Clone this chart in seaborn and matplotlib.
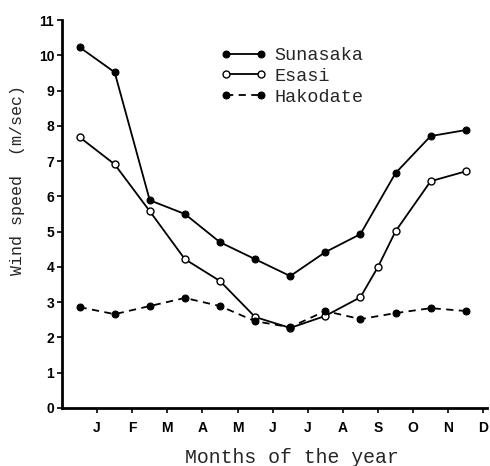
import numpy as np
import pandas as pd
import seaborn as sns
import matplotlib
matplotlib.use("Agg")
import matplotlib.pyplot as plt

# month labels under the tick marks (ticks at month ends, 1..12)
month_labels = ["J", "F", "M", "A", "M", "J", "J", "A", "S", "O", "N", "D"]
month_ticks = list(range(1, 13))

# observations plotted at mid-month
mid_month = [0.5, 1.5, 2.5, 3.5, 4.5, 5.5, 6.5, 7.5, 8.5, 9.5, 10.5, 11.5]
sunasaka = [10.23, 9.52, 5.89, 5.5, 4.70, 4.22, 3.74, 4.42, 4.93, 6.66, 7.71, 7.88]
esasi_x = [0.5, 1.5, 2.5, 3.5, 4.5, 5.5, 6.5, 7.5, 8.5, 9.0, 9.5, 10.5, 11.5]
esasi = [7.68, 6.91, 5.58, 4.22, 3.60, 2.58, 2.27, 2.61, 3.14, 4.0, 5.01, 6.43, 6.71]
hakodate = [2.86, 2.66, 2.89, 3.12, 2.89, 2.46, 2.29, 2.75, 2.52, 2.69, 2.83, 2.75]

sns.set_style("ticks")
plt.rcParams["font.family"] = ["Liberation Sans", "DejaVu Sans"]

fig = plt.figure(figsize=(4.9, 4.66), dpi=100)
ax = fig.add_axes([0.1265, 0.1245, 0.867, 0.8325])

sns.lineplot(x=mid_month, y=sunasaka, ax=ax, color="black", linewidth=1.3,
             marker="o", markersize=5, markerfacecolor="black",
             markeredgecolor="black", label="Sunasaka")
sns.lineplot(x=esasi_x, y=esasi, ax=ax, color="black", linewidth=1.3,
             marker="o", markersize=5, markerfacecolor="white",
             markeredgecolor="black", markeredgewidth=1, label="Esasi")
sns.lineplot(x=mid_month, y=hakodate, ax=ax, color="black", linewidth=1.3,
             linestyle=(0, (4, 3)), marker="o", markersize=5,
             markerfacecolor="black", markeredgecolor="black", label="Hakodate")

ax.set_xlim(0, 12.1)
ax.set_ylim(0, 11)
ax.set_xticks(month_ticks)
ax.set_xticklabels(month_labels)
ax.set_yticks(range(0, 12))
ax.set_yticklabels([str(v) for v in range(0, 12)])
for lab in ax.get_xticklabels() + ax.get_yticklabels():
    lab.set_fontweight("bold")
    lab.set_fontsize(10)
    lab.set_color("black")
ax.tick_params(axis="both", direction="out", length=3.5, width=1.2, color="black")
ax.tick_params(axis="x", pad=6)
ax.tick_params(axis="y", pad=2)

sns.despine(ax=ax)
for side in ["left", "bottom"]:
    ax.spines[side].set_linewidth(2)
    ax.spines[side].set_color("black")

ax.set_xlabel("Months of the year", family="Liberation Mono", fontsize=14.3)
ax.xaxis.set_label_coords(0.54, -0.103)
ax.set_ylabel("Wind speed  (m/sec)", family="Liberation Mono", fontsize=12)
ax.yaxis.set_label_coords(-0.087, 0.588)

leg = ax.legend(loc="upper left", bbox_to_anchor=(0.372, 0.93), frameon=False,
                numpoints=2, handlelength=2.5, handletextpad=0.45,
                labelspacing=0.2, borderaxespad=0, borderpad=0,
                prop={"family": "Liberation Mono", "size": 13.3})

fig.savefig("out.png", dpi=100)
